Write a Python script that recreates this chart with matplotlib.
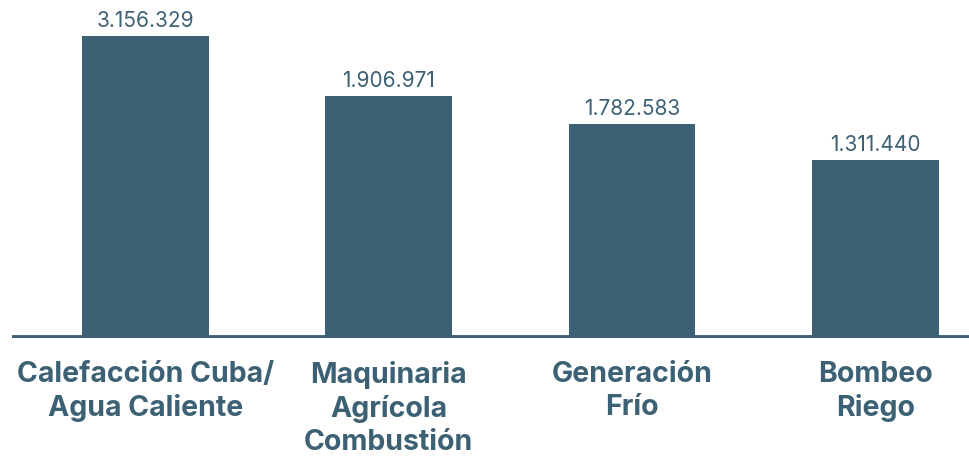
import numpy as np
import matplotlib.pyplot as plt

# datos del gráfico
categorias = ['Calefacción Cuba/\nAgua Caliente', 'Maquinaria\nAgrícola\nCombustión',
              'Generación\nFrío', 'Bombeo\nRiego']
valores = [3156329, 1906971, 1782583, 1311440]
etiquetas = ['3.156.329', '1.906.971', '1.782.583', '1.311.440']
# altura de las barras tal como se ven en la imagen (escala relativa, no proporcional al valor)
alturas = [100, 80, 71, 59]

color = '#3d6174'
fuente = 'Inter'

fig = plt.figure(figsize=(9.69, 4.57), dpi=100)
ax = fig.add_axes([12 / 969, 119 / 457, 957 / 969, 338 / 457])

x = np.arange(len(categorias))
ax.bar(x, alturas, width=0.52, color=color, zorder=2)
ax.axhline(0, color=color, lw=4.2, zorder=3)

for xi, h, t in zip(x, alturas, etiquetas):
    ax.annotate(t, (xi, h), xytext=(0, 6.5), textcoords='offset points',
                ha='center', va='baseline', fontsize=15, color=color, family=fuente)

for xi, c in zip(x, categorias):
    ax.annotate(c, (xi, 0), xycoords=('data', 'axes fraction'), xytext=(0, -16.5),
                textcoords='offset points', ha='center', va='top', fontsize=20.5,
                fontweight='bold', color=color, family=fuente, linespacing=1.28)

ax.set_xlim(-0.548, 3.384)
ax.set_ylim(0, 111.9)
ax.axis('off')

plt.savefig('out.png', dpi=100)
